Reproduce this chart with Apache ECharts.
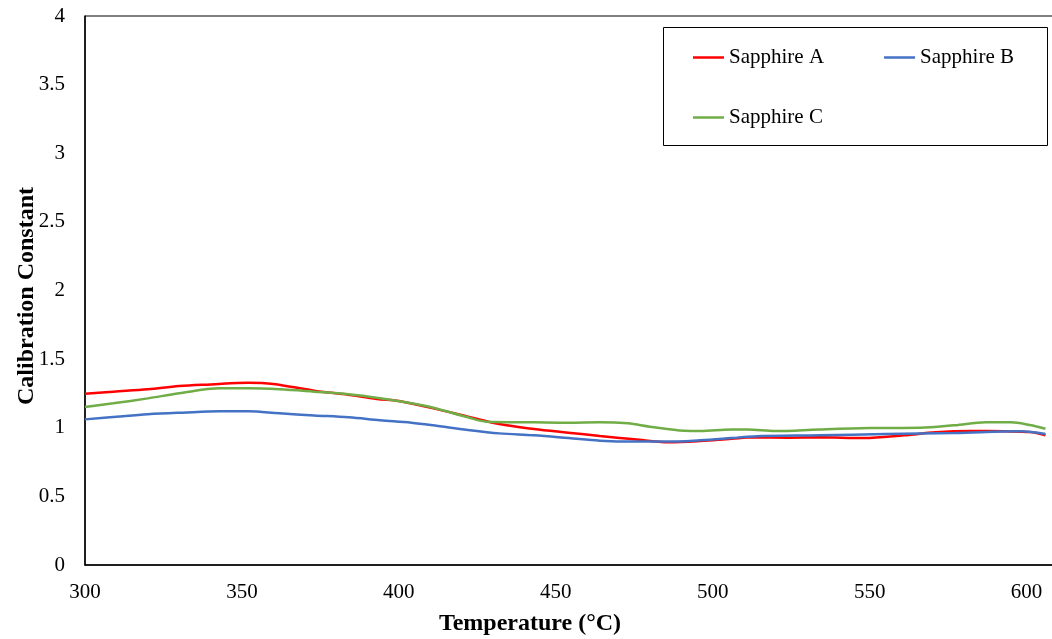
<!DOCTYPE html>
<html>
<head>
<meta charset="utf-8">
<script src="https://cdn.jsdelivr.net/npm/echarts@6/dist/echarts.min.js"></script>
<style>
  html, body { margin: 0; padding: 0; background: #fff; }
  #chart { width: 1052px; height: 639px; }
</style>
</head>
<body>
<div id="chart"></div>
<script>
// Calibration constant vs temperature, [°C, constant]
const sapphireA = [
  [300, 1.248], [309, 1.263], [320, 1.280], [330, 1.304], [340, 1.316], [352, 1.328],
  [360, 1.319], [373, 1.270], [383, 1.244], [393, 1.210], [400, 1.195], [411, 1.141],
  [422, 1.081], [432, 1.027], [443, 0.991], [454, 0.964], [464, 0.940], [475, 0.916],
  [486, 0.894], [496, 0.903], [506, 0.920], [513, 0.930], [524, 0.928], [534, 0.930],
  [548, 0.925], [561, 0.945], [571, 0.967], [582, 0.976], [593, 0.974], [601, 0.969],
  [606, 0.945]
];
const sapphireB = [
  [300, 1.061], [310, 1.080], [320, 1.098], [331, 1.110], [343, 1.120], [352, 1.120],
  [362, 1.105], [373, 1.090], [384, 1.076], [394, 1.055], [404, 1.037], [411, 1.018],
  [422, 0.984], [432, 0.959], [443, 0.945], [454, 0.925], [464, 0.906], [475, 0.899],
  [486, 0.899], [496, 0.909], [506, 0.925], [513, 0.937], [534, 0.945], [555, 0.954],
  [577, 0.962], [598, 0.974], [606, 0.954]
];
const sapphireC = [
  [300, 1.151], [309, 1.178], [320, 1.214], [330, 1.251], [343, 1.287], [352, 1.287],
  [362, 1.280], [373, 1.263], [384, 1.244], [394, 1.215], [404, 1.178], [411, 1.146],
  [422, 1.076], [428, 1.044], [443, 1.040], [454, 1.037], [464, 1.040], [473, 1.032],
  [480, 1.008], [491, 0.978], [496, 0.976], [506, 0.988], [511, 0.988], [520, 0.976],
  [534, 0.988], [550, 0.998], [566, 1.000], [577, 1.018], [587, 1.040], [595, 1.040],
  [601, 1.020], [606, 0.993]
];
const seriesNames = ['Sapphire A', 'Sapphire B', 'Sapphire C'];
const seriesColors = ['#FF0000', '#4472C4', '#70AD47'];
const xTitle = 'Temperature (°C)';
const yTitle = 'Calibration Constant';

const font = '"Liberation Serif", "Times New Roman", serif';
const chart = echarts.init(document.getElementById('chart'), null, { renderer: 'canvas' });

const makeSeries = (name, data, color) => ({
  name, type: 'line', data, smooth: 0.35, symbol: 'none',
  lineStyle: { color, width: 2.5 }, itemStyle: { color },
  emphasis: { disabled: true }, animation: false
});

const legendBase = {
  icon: 'rect', itemWidth: 31, itemHeight: 2.5, orient: 'horizontal',
  textStyle: { fontFamily: font, fontSize: 21, color: '#000' },
  selectedMode: false
};

chart.setOption({
  backgroundColor: '#fff',
  animation: false,
  grid: {
    left: 85, right: -6, top: 16, bottom: 74,
    containLabel: false, outerBoundsMode: 'none',
    show: true, borderColor: '#000', borderWidth: 1, backgroundColor: 'transparent'
  },
  xAxis: {
    type: 'value', min: 300, max: 610, interval: 50,
    axisLine: { show: true, lineStyle: { color: '#000', width: 1.5 } },
    axisTick: { show: false },
    splitLine: { show: false },
    axisLabel: {
      fontFamily: font, fontSize: 21, color: '#000', margin: 17,
      formatter: v => (v % 50 === 0 ? String(v) : '')
    }
  },
  yAxis: {
    type: 'value', min: 0, max: 4, interval: 0.5,
    axisLine: { show: true, lineStyle: { color: '#000', width: 1.5 } },
    axisTick: { show: false },
    splitLine: { show: false },
    axisLabel: { fontFamily: font, fontSize: 21, color: '#000', margin: 20 }
  },
  legend: [
    Object.assign({ data: seriesNames.slice(0, 2), left: 688, top: 42, itemGap: 60 }, legendBase),
    Object.assign({ data: seriesNames.slice(2), left: 688, top: 102 }, legendBase)
  ],
  graphic: [
    {
      type: 'rect', left: 663, top: 27, z: 0,
      shape: { width: 384, height: 118 },
      style: { fill: '#fff', stroke: '#000', lineWidth: 1 }
    },
    {
      type: 'text', x: 530, y: 624, z: 10,
      style: {
        text: xTitle, fontFamily: font, fontSize: 24, fontWeight: 'bold', fill: '#000',
        align: 'center', verticalAlign: 'middle'
      }
    },
    {
      type: 'text', x: 27, y: 296, rotation: Math.PI / 2, z: 10,
      style: {
        text: yTitle, fontFamily: font, fontSize: 24, fontWeight: 'bold', fill: '#000',
        align: 'center', verticalAlign: 'middle'
      }
    }
  ],
  series: [
    makeSeries(seriesNames[0], sapphireA, seriesColors[0]),
    makeSeries(seriesNames[1], sapphireB, seriesColors[1]),
    makeSeries(seriesNames[2], sapphireC, seriesColors[2])
  ]
});
</script>
</body>
</html>
